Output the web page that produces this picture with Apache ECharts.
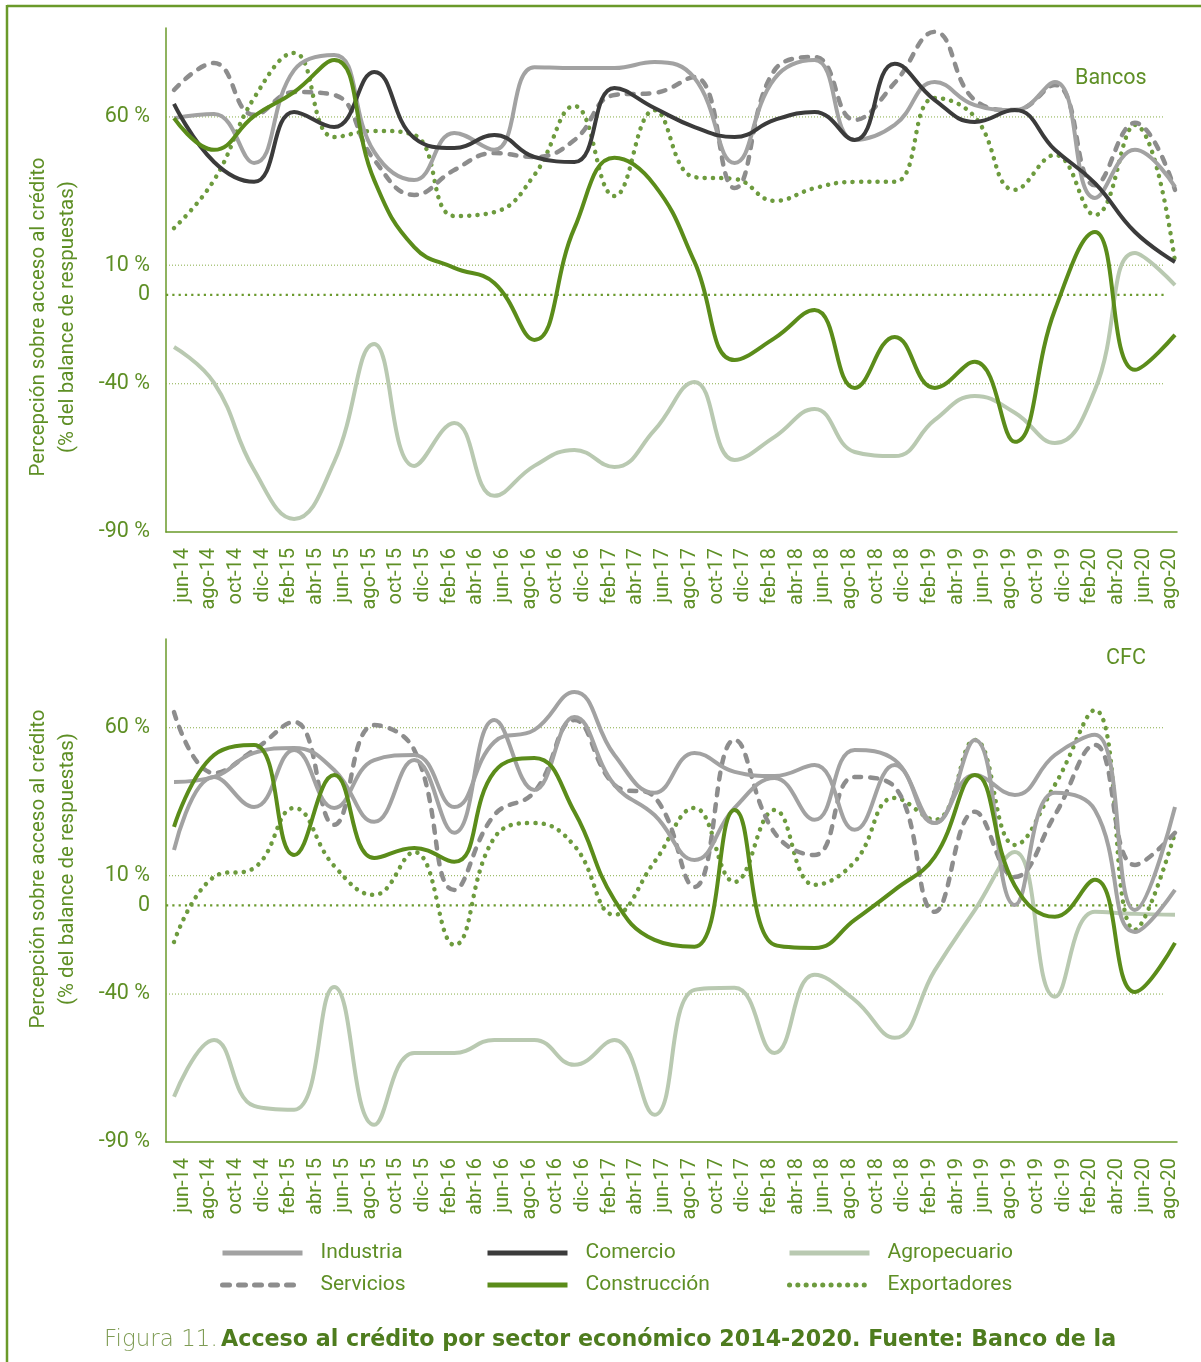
<!DOCTYPE html>
<html><head><meta charset="utf-8">
<script src="https://cdn.jsdelivr.net/npm/echarts@6/dist/echarts.min.js"></script>
<style>html,body{margin:0;padding:0;background:#fff}#c{width:1201px;height:1362px}</style>
</head><body><div id="c"></div>
<script>
const MONTHS = ['ene','feb','mar','abr','may','jun','jul','ago','sep','oct','nov','dic'];
const tickLabels = ['jun-14','ago-14','oct-14','dic-14','feb-15','abr-15','jun-15','ago-15','oct-15','dic-15',
  'feb-16','abr-16','jun-16','ago-16','oct-16','dic-16','feb-17','abr-17','jun-17','ago-17','oct-17','dic-17',
  'feb-18','abr-18','jun-18','ago-18','oct-18','dic-18','feb-19','abr-19','jun-19','ago-19','oct-19','dic-19',
  'feb-20','abr-20','jun-20','ago-20'];
const quarters = ['jun-14','sep-14','dic-14','mar-15','jun-15','sep-15','dic-15','mar-16','jun-16','sep-16',
  'dic-16','mar-17','jun-17','sep-17','dic-17','mar-18','jun-18','sep-18','dic-18','mar-19','jun-19','sep-19',
  'dic-19','mar-20','jun-20','sep-20'];
const yTickValues = [60, 10, 0, -30, -80];
const yTickLabels = ['60 %', '10 %', '0', '-40 %', '-90 %'];
const thinGridValues = [60, 10, -30];
const zeroGridValue = 0;

// Bancos
const bancosIndustria    = [59.6,61.0,44.5,75.8,80.9,48.2,38.7,54.6,48.9,76.8,76.5,76.5,78.5,73.1,44.5,73.0,79.2,52.2,57.3,71.8,64.0,62.3,71.8,32.7,48.9,36.4];
const bancosServicios    = [69.1,78.2,60.7,68.4,67.4,45.5,33.7,42.1,47.8,46.5,52.2,67.4,68.1,73.5,36.0,75.8,80.2,59.0,71.5,88.7,65.7,62.3,70.8,37.0,58.0,35.4];
const bancosComercio     = [64.4,44.8,38.1,61.7,56.6,75.2,52.9,49.5,53.9,46.5,44.8,69.8,63.0,56.6,53.2,59.0,61.7,52.2,77.9,65.7,58.3,62.3,48.9,37.7,21.2,11.1];
const bancosConstruccion = [59.6,48.9,60.3,68.4,79.2,38.7,16.1,9.1,4.0,-15.2,22.5,46.2,37.0,11.1,-22.0,-14.6,-5.1,-31.4,-14.2,-31.4,-22.6,-49.6,-5.1,21.2,-25.3,-13.5];
const bancosAgro         = [-17.6,-29.7,-59.1,-75.6,-56.4,-16.6,-57.7,-43.2,-67.8,-57.7,-52.3,-58.1,-45.6,-29.4,-55.7,-47.9,-38.5,-53.0,-54.4,-42.2,-34.1,-39.8,-50.0,-32.1,14.1,3.3];
const bancosExport       = [22.5,38.7,66.4,81.6,53.2,55.3,53.9,26.6,27.9,40.4,63.7,33.3,62.3,39.7,39.1,31.7,36.0,38.1,38.1,66.4,60.0,35.4,47.2,26.9,57.3,11.1];
// CFC
const cfcIndustria    = [18.7,43.4,33.2,52.5,32.9,49.1,50.8,33.2,55.2,59.3,72.1,50.8,38.0,51.5,45.1,43.7,47.4,25.5,47.4,27.8,55.9,0.1,38.0,32.2,-9.0,5.2];
const cfcComercio     = [41.7,43.4,51.5,53.2,45.7,28.2,49.1,24.5,62.6,39.0,63.6,40.7,30.5,15.3,32.9,43.0,28.9,52.5,49.1,27.8,44.0,37.3,50.8,57.6,-1.6,33.2];
const cfcServicios    = [65.3,44.7,52.5,62.0,27.2,60.9,52.5,5.2,30.5,38.3,62.6,40.7,36.6,6.2,55.9,24.5,17.0,43.4,40.0,-2.2,31.6,9.6,30.5,54.2,13.6,24.5];
const cfcConstruccion = [26.5,50.8,54.2,17.0,44.0,16.0,19.4,14.7,45.1,49.8,31.6,1.8,-11.7,-14.0,32.2,-13.4,-14.4,-4.9,5.2,16.4,44.0,6.6,-3.9,8.6,-29.3,-12.7];
const cfcAgro         = [-64.7,-45.5,-67.8,-69.1,-27.6,-74.2,-49.9,-49.9,-45.5,-45.5,-53.9,-45.5,-70.8,-28.6,-27.9,-49.9,-23.5,-32.0,-44.8,-22.0,-1.6,18.0,-30.9,-2.2,-2.9,-3.2];
const cfcExport       = [-12.4,9.6,12.6,32.9,13.3,3.5,18.0,-13.4,22.8,27.8,20.1,-3.2,14.7,32.9,7.9,32.2,6.9,14.7,36.3,28.9,55.9,20.4,40.7,66.0,-8.3,24.5];

const GREEN_TXT = '#5e8f25';
const AXIS_GREEN = '#6a9a2a';
const FONT = "Roboto, 'Liberation Sans', sans-serif";
const LABEL_SHIFT = 0.65;
const X_MIN = -0.6, X_MAX = 75.15, GRID_END = 74.2;

function monthIndex(lbl) { const p = lbl.split('-'); return (+p[1] - 14) * 12 + MONTHS.indexOf(p[0]) - 5; }
function pts(vals) { return quarters.map((q, i) => [monthIndex(q), vals[i]]); }

const xLabelVals = tickLabels.map(l => monthIndex(l) + LABEL_SHIFT);

function xAxis(gi) {
  return {
    type: 'value', gridIndex: gi, min: X_MIN, max: X_MAX,
    axisLine: { show: true, onZero: false, lineStyle: { color: AXIS_GREEN, width: 1.5 } },
    axisTick: { show: false }, splitLine: { show: false },
    axisLabel: {
      customValues: xLabelVals, rotate: 90, margin: 16, fontSize: 20, color: GREEN_TXT, fontFamily: FONT,
      formatter: v => { const i = xLabelVals.findIndex(x => Math.abs(x - v) < 0.01); return i >= 0 ? tickLabels[i] : ''; }
    }
  };
}
function yAxis(gi) {
  return {
    type: 'value', gridIndex: gi, min: -80, max: 90,
    axisLine: { show: true, onZero: false, lineStyle: { color: AXIS_GREEN, width: 1.5 } },
    axisTick: { show: false }, splitLine: { show: false },
    axisLabel: {
      customValues: yTickValues, margin: 16, fontSize: 21.5, color: GREEN_TXT, fontFamily: FONT,
      formatter: v => { const i = yTickValues.indexOf(v); return i >= 0 ? yTickLabels[i] : ''; }
    }
  };
}

const styles = {
  Industria:    { color: '#a2a2a2', type: 'solid', width: 4 },
  Servicios:    { color: '#8d8d8d', type: [7, 9], cap: 'round', width: 4.5 },
  Comercio:     { color: '#3b3b3b', type: 'solid', width: 4 },
  'Construcción': { color: '#5b8c1a', type: 'solid', width: 4 },
  Agropecuario: { color: '#b9c9b1', type: 'solid', width: 4 },
  Exportadores: { color: '#6d9b3e', type: [0.1, 8.2], cap: 'round', width: 4.5 }
};

function mk(name, vals, gi, colorOverride) {
  const st = styles[name];
  return {
    name, type: 'line', xAxisIndex: gi, yAxisIndex: gi, smooth: 0.45, symbol: 'none', showSymbol: false,
    data: pts(vals), z: 3,
    lineStyle: { color: colorOverride || st.color, width: st.width, type: st.type, cap: st.cap || 'butt' },
    itemStyle: { color: st.color },
    emphasis: { disabled: true }
  };
}
function gridLine(gi, v, lineStyle) {
  return {
    type: 'line', xAxisIndex: gi, yAxisIndex: gi, symbol: 'none', silent: true, z: 1,
    data: [[X_MIN, v], [GRID_END, v]], lineStyle, emphasis: { disabled: true }
  };
}
const thinStyle = { color: '#86ad45', width: 1, type: [1, 2], cap: 'butt' };
const zeroStyle = { color: '#6b9a2e', width: 2.2, type: [2.2, 4.1], cap: 'butt' };

const series = [];
[0, 1].forEach(gi => {
  thinGridValues.forEach(v => series.push(gridLine(gi, v, thinStyle)));
  series.push(gridLine(gi, zeroGridValue, zeroStyle));
});
series.push(
  mk('Agropecuario', bancosAgro, 0),
  mk('Exportadores', bancosExport, 0),
  mk('Servicios', bancosServicios, 0),
  mk('Industria', bancosIndustria, 0),
  mk('Comercio', bancosComercio, 0),
  mk('Construcción', bancosConstruccion, 0),
  mk('Agropecuario', cfcAgro, 1),
  mk('Exportadores', cfcExport, 1),
  mk('Servicios', cfcServicios, 1),
  mk('Industria', cfcIndustria, 1),
  mk('Comercio', cfcComercio, 1, '#a2a2a2'),
  mk('Construcción', cfcConstruccion, 1)
);

function legend(left, names) {
  return {
    left, top: 1241, orient: 'vertical', data: names, selectedMode: false, padding: 0,
    itemWidth: 80, itemHeight: 12, itemGap: 8,
    itemStyle: { opacity: 0 },
    lineStyle: { width: 5 },
    textStyle: { fontSize: 21, color: GREEN_TXT, fontFamily: FONT, padding: [0, 0, 0, 13], lineHeight: 24 }
  };
}

const axisTitle = 'Percepción sobre acceso al crédito\n(% del balance de respuestas)';

const option = {
  animation: false,
  textStyle: { fontFamily: FONT },
  title: [
    { text: 'Bancos', left: 1075, top: 68, padding: 0, textStyle: { fontSize: 21.5, fontWeight: 'normal', color: GREEN_TXT, fontFamily: FONT } },
    { text: 'CFC', left: 1106, top: 648, padding: 0, textStyle: { fontSize: 21.5, fontWeight: 'normal', color: GREEN_TXT, fontFamily: FONT } }
  ],
  grid: [
    { left: 166, width: 1011, top: 28, height: 504 },
    { left: 166, width: 1011, top: 639, height: 503 }
  ],
  xAxis: [xAxis(0), xAxis(1)],
  yAxis: [yAxis(0), yAxis(1)],
  legend: [
    legend(220, ['Industria', 'Servicios']),
    legend(485, ['Comercio', 'Construcción']),
    legend(787, ['Agropecuario', 'Exportadores'])
  ],
  series,
  graphic: [
    { type: 'line', shape: { x1: 7, y1: 6, x2: 1201, y2: 6 }, style: { stroke: AXIS_GREEN, lineWidth: 2.5 } },
    { type: 'line', shape: { x1: 7, y1: 5, x2: 7, y2: 1362 }, style: { stroke: AXIS_GREEN, lineWidth: 2.5 } },
    { type: 'text', x: 53, y: 317, rotation: Math.PI / 2,
      style: { text: axisTitle, fontSize: 20.5, lineHeight: 29, fill: GREEN_TXT, fontFamily: FONT, align: 'center', verticalAlign: 'middle' } },
    { type: 'text', x: 53, y: 869, rotation: Math.PI / 2,
      style: { text: axisTitle, fontSize: 20.5, lineHeight: 29, fill: GREEN_TXT, fontFamily: FONT, align: 'center', verticalAlign: 'middle' } },
    { type: 'text', x: 104, y: 1340,
      style: {
        text: '{a|Figura 11.} {b|Acceso al crédito por sector económico 2014-2020. Fuente: Banco de la}',
        verticalAlign: 'middle',
        rich: {
          a: { fontSize: 23, fontFamily: 'DejaVu Sans', fontWeight: 200, fill: '#7f9c55' },
          b: { fontSize: 22.2, fontFamily: 'DejaVu Sans', fontWeight: 'bold', fill: '#4e7c1e' }
        }
      } }
  ]
};

const chart = echarts.init(document.getElementById('c'), null, { renderer: 'canvas' });
chart.setOption(option);
</script></body></html>
